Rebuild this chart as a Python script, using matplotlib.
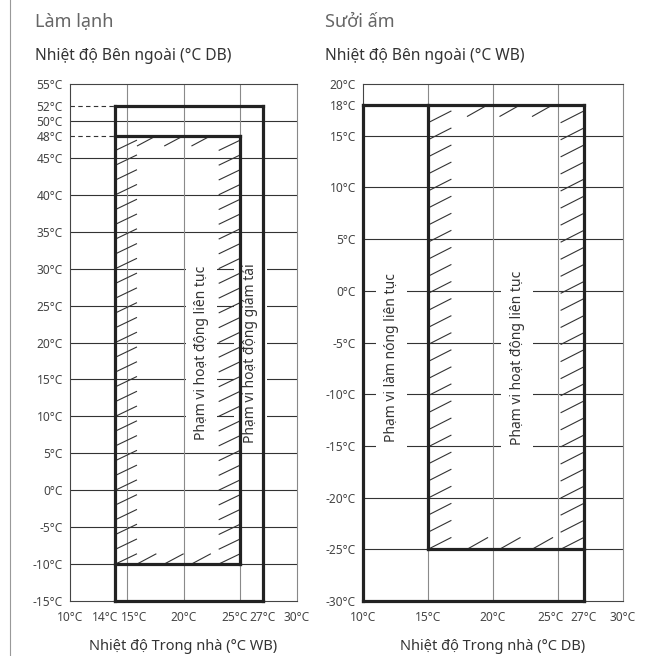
import matplotlib
matplotlib.use('Agg')
import matplotlib.pyplot as plt
from matplotlib.collections import LineCollection
from matplotlib.lines import Line2D
from matplotlib.transforms import ScaledTranslation

plt.rcParams['font.family'] = ['Noto Sans', 'DejaVu Sans']

# --- data ---
cool_x_ticks = [10, 14, 15, 20, 25, 27, 30]
cool_y_ticks = [55, 52, 50, 48, 45, 40, 35, 30, 25, 20, 15, 10, 5, 0, -5, -10, -15]
cool_cont_x = [14, 25]      # indoor WB range, continuous operation
cool_cont_y = [-10, 48]     # outdoor DB range, continuous operation
cool_red_x = [14, 27]       # reduced-capacity range
cool_red_y = [-15, 52]

heat_x_ticks = [10, 15, 20, 25, 27, 30]
heat_y_ticks = [20, 18, 15, 10, 5, 0, -5, -10, -15, -20, -25, -30]
heat_cont_x = [15, 27]      # continuous operation
heat_cont_y = [-25, 18]
heat_warm_x = [10, 27]      # continuous warming range
heat_warm_y = [-30, 18]

cool_labels = ['Phạm vi hoạt động liên tục', 'Phạm vi hoạt động giảm tải']
heat_labels = ['Phạm vi làm nóng liên tục', 'Phạm vi hoạt động liên tục']

W, H = 658, 656
fig = plt.figure(figsize=(W / 100, H / 100), dpi=100)

DARK = '#222222'
GRID_H = '#333333'
GRID_V = '#8a8a8a'
TXT = '#444444'


def px_axes(x0, x1, y0, y1):
    return fig.add_axes([x0 / W, 1 - y1 / H, (x1 - x0) / W, (y1 - y0) / H])


def box(ax, xs, ys, sides='lrtb'):
    a, b = xs
    c, d = ys
    segs = {'l': ([a, a], [c, d]), 'r': ([b, b], [c, d]),
            't': ([a, b], [d, d]), 'b': ([a, b], [c, c])}
    for s in sides:
        ax.plot(*segs[s], color=DARK, lw=2.3, solid_capstyle='projecting',
                clip_on=False, zorder=5)


def hatch(ax, xs, ys, dx, dy, step_y, step_x, gap_x):
    x0, x1 = xs
    y0, y1 = ys
    segs = []
    y = y0
    while y + dy <= y1 + 1e-6:
        segs.append([(x0, y), (x0 + dx, y + dy)])
        segs.append([(x1 - dx, y), (x1, y + dy)])
        y += step_y
    x = x0 + dx + gap_x
    while x + dx <= x1 - dx + 1e-6:
        segs.append([(x, y1 - dy), (x + dx * 0.9, y1)])
        segs.append([(x, y0), (x + dx * 0.9, y0 + dy)])
        x += step_x
    ax.add_collection(LineCollection(segs, colors='#333333', linewidths=0.8, zorder=4))


def style_axes(ax, xlim, ylim, xt, yt, hgrid):
    ax.set_xlim(*xlim)
    ax.set_ylim(*ylim)
    ax.set_xticks(xt)
    ax.set_xticklabels([f'{v}°C' for v in xt])
    ax.set_yticks(yt)
    ax.set_yticklabels([f'{v}°C' for v in yt])
    ax.tick_params(axis='both', length=0, labelsize=8.6, labelcolor=TXT)
    ax.tick_params(axis='y', pad=5)
    ax.tick_params(axis='x', pad=7)
    for v in hgrid:
        ax.axhline(v, color=GRID_H, lw=0.8, zorder=1)
    for v in [15, 20, 25]:
        ax.axvline(v, color=GRID_V, lw=0.8, zorder=1)
    for s in ['left', 'top', 'bottom']:
        ax.spines[s].set_color('#444444')
        ax.spines[s].set_linewidth(0.8)
    ax.spines['right'].set_color('#888888')
    ax.spines['right'].set_linewidth(0.8)


def nudge_x(ax, shifts):
    for lab, v in zip(ax.get_xticklabels(), ax.get_xticks()):
        if v in shifts:
            lab.set_transform(lab.get_transform() +
                              ScaledTranslation(shifts[v] / 100, 0, fig.dpi_scale_trans))


# --- cooling panel ---
ax1 = px_axes(70, 297, 84, 601)
style_axes(ax1, (10, 30), (-15, 55), cool_x_ticks, cool_y_ticks,
           [v for v in range(-10, 55, 5)])
for v in [52, 48]:
    ax1.plot([10, 14], [v, v], color='#333333', lw=0.8, ls=(0, (4, 3)), zorder=2)
box(ax1, cool_red_x, cool_red_y)
box(ax1, cool_cont_x, cool_cont_y, 'trb')
hatch(ax1, cool_cont_x, cool_cont_y, 1.9, 1.4, 2.0, 2.4, 0.0)
bb = dict(boxstyle='square,pad=0.6', fc='white', ec='none')
ax1.text(21.6, 18.6, cool_labels[0], rotation=90, ha='center', va='center',
         fontsize=10, color='#333333', bbox=bb, zorder=3)
ax1.text(25.9, 18.6, cool_labels[1], rotation=90, ha='center', va='center',
         fontsize=10, color='#333333', bbox=bb, zorder=3)
nudge_x(ax1, {14: -10, 15: 7, 25: -6})

# --- heating panel ---
ax2 = px_axes(363, 623, 84, 601)
style_axes(ax2, (10, 30), (-30, 20), heat_x_ticks, heat_y_ticks,
           [v for v in range(-25, 20, 5)])
box(ax2, heat_warm_x, heat_warm_y)
box(ax2, heat_cont_x, heat_cont_y, 'lb')
hatch(ax2, heat_cont_x, heat_cont_y, 1.8, 1.15, 1.65, 2.5, 1.2)
ax2.text(12.2, -6.5, heat_labels[0], rotation=90, ha='center', va='center',
         fontsize=10, color='#333333', bbox=bb, zorder=3)
ax2.text(21.85, -6.5, heat_labels[1], rotation=90, ha='center', va='center',
         fontsize=10, color='#333333', bbox=bb, zorder=3)
nudge_x(ax2, {25: -7})

# --- titles ---
fig.text(35 / W, 1 - 27 / H, 'Làm lạnh', fontsize=13, color='#666666', va='baseline')
fig.text(325 / W, 1 - 27 / H, 'Sưởi ấm', fontsize=13, color='#666666', va='baseline')
fig.text(35 / W, 1 - 60 / H, 'Nhiệt độ Bên ngoài (°C DB)', fontsize=11.2, color='#333333', va='baseline')
fig.text(325 / W, 1 - 60 / H, 'Nhiệt độ Bên ngoài (°C WB)', fontsize=11.2, color='#333333', va='baseline')
fig.text(183.5 / W, 1 - 650 / H, 'Nhiệt độ Trong nhà (°C WB)', fontsize=10.5,
         color='#333333', ha='center', va='baseline')
fig.text(493 / W, 1 - 650 / H, 'Nhiệt độ Trong nhà (°C DB)', fontsize=10.5,
         color='#333333', ha='center', va='baseline')

fig.add_artist(Line2D([9.5 / W, 9.5 / W], [0, 1], color='#999999', lw=0.8,
                      transform=fig.transFigure))

fig.savefig('out.png', dpi=100)
